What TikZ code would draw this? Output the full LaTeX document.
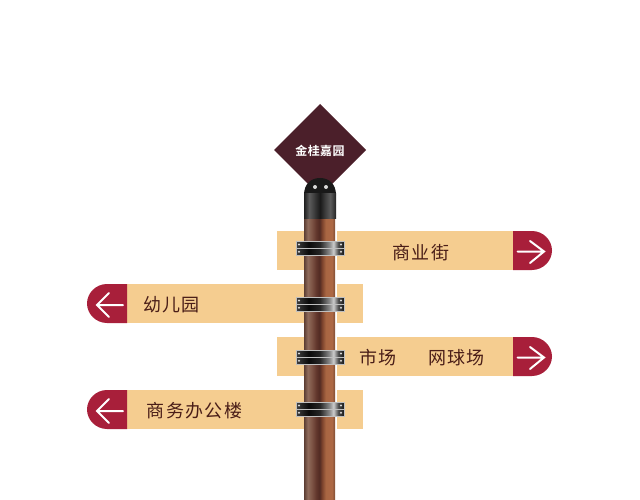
\documentclass[tikz,border=0pt]{standalone}
\usepackage{fontspec}
\newfontfamily\cjk[LetterSpace=8]{Noto Sans CJK SC}
\newfontfamily\cjkb[LetterSpace=4]{Noto Sans CJK SC Bold}
\definecolor{signtan}{HTML}{F5CD90}
\definecolor{signred}{HTML}{A81F3A}
\definecolor{plum}{HTML}{4B1F2A}
\definecolor{ink}{HTML}{4A1E18}
\pgfdeclarehorizontalshading{poleshade}{100bp}{
 rgb(0bp)=(0.36,0.24,0.20);
 rgb(25bp)=(0.36,0.24,0.20);
 rgb(31bp)=(0.56,0.42,0.36);
 rgb(37bp)=(0.50,0.34,0.28);
 rgb(45bp)=(0.38,0.21,0.17);
 rgb(50bp)=(0.32,0.17,0.14);
 rgb(54bp)=(0.48,0.26,0.17);
 rgb(60bp)=(0.66,0.40,0.26);
 rgb(70bp)=(0.68,0.41,0.27);
 rgb(75bp)=(0.50,0.30,0.20);
 rgb(100bp)=(0.50,0.30,0.20)}
\pgfdeclarehorizontalshading{capshade}{100bp}{
 rgb(0bp)=(0.12,0.12,0.12);
 rgb(25bp)=(0.12,0.12,0.12);
 rgb(33bp)=(0.36,0.36,0.36);
 rgb(42bp)=(0.22,0.22,0.22);
 rgb(50bp)=(0.10,0.10,0.10);
 rgb(58bp)=(0.24,0.24,0.24);
 rgb(66bp)=(0.36,0.36,0.36);
 rgb(75bp)=(0.14,0.14,0.14);
 rgb(100bp)=(0.14,0.14,0.14)}
\pgfdeclarehorizontalshading{clampshade}{100bp}{
 rgb(0bp)=(0.25,0.25,0.25);
 rgb(25bp)=(0.25,0.25,0.25);
 rgb(38bp)=(0.04,0.04,0.04);
 rgb(50bp)=(0.15,0.15,0.15);
 rgb(60bp)=(0.55,0.55,0.55);
 rgb(64bp)=(0.80,0.80,0.80);
 rgb(69bp)=(0.30,0.30,0.30);
 rgb(75bp)=(0.10,0.10,0.10);
 rgb(100bp)=(0.10,0.10,0.10)}
\tikzset{
 board/.style={fill=signtan,draw=none},
 tipfill/.style={fill=signred,draw=none},
 tiparrow/.style={draw=white,line width=2pt,line cap=round,line join=miter},
 signtext/.style={font=\cjk\fontsize{18}{18}\selectfont,text=ink,inner sep=0pt},
 rivet/.style={fill=white!85!black,draw=none}
}
\begin{document}
\begin{tikzpicture}[x=1pt,y=-1pt]
\useasboundingbox (0,0) rectangle (640,500);
\fill[white] (0,0) rectangle (640,500);
% boards, split by the pole
\foreach \t in {231,337}{
 \fill[board] (277,\t) rectangle (303.5,\t+39);
 \fill[board] (337,\t) rectangle (513,\t+39);
 \fill[tipfill] (513,\t) -- (532,\t) .. controls (543,\t) and (552,\t+9) .. (552,\t+19.5) .. controls (552,\t+30) and (543,\t+39) .. (532,\t+39) -- (513,\t+39) -- cycle;
 \draw[tiparrow] (517.5,\t+20.5) -- (544,\t+20.5) (530,\t+10) -- (544,\t+20.5) -- (530,\t+32);
}
\foreach \t in {284,390}{
 \fill[board] (127,\t) rectangle (303.5,\t+39);
 \fill[board] (337,\t) rectangle (363,\t+39);
 \fill[tipfill] (127,\t) -- (107,\t) .. controls (96,\t) and (87,\t+9) .. (87,\t+19.5) .. controls (87,\t+30) and (96,\t+39) .. (107,\t+39) -- (127,\t+39) -- cycle;
 \draw[tiparrow] (123,\t+21) -- (97,\t+21) (109,\t+9) -- (97,\t+21) -- (109,\t+33);
}
% diamond
\fill[plum] (320,104) -- (366,150) -- (320,196) -- (274,150) -- cycle;
\node[inner sep=0pt,text=white,font=\cjkb\fontsize{12}{12}\selectfont] (title) at (320,151) {金桂嘉园};
% pole
\shade[shading=poleshade] (304,215) rectangle (335,500);
% cap
\fill[black!90] (304,195) .. controls (304,184) and (311,178) .. (320,178) .. controls (329,178) and (336,184) .. (336,195) -- cycle;
\shade[shading=capshade] (304,193) rectangle (336,218.5);
\foreach \cx in {315,326} \fill[rivet] (\cx,187) circle (2);
% clamps
\foreach \t in {241,297,350,402}{
 \foreach \o in {0,7.2}{
  \shade[shading=clampshade,draw=white!75!black,line width=0.4pt] (296,\t+\o) rectangle (344,\t+\o+7);
  \fill[rivet] (299,\t+\o+3.5) circle (1.1);
  \fill[rivet] (341,\t+\o+3.5) circle (1.1);
 }
}
\node[signtext] (a) at (421,252.5) {商业街};
\node[signtext] (b) at (171.5,304.5) {幼儿园};
\node[signtext] (c) at (378,357.5) {市场};
\node[signtext] (d) at (456.5,357.5) {网球场};
\node[signtext] (e) at (194.5,411) {商务办公楼};
\end{tikzpicture}
\end{document}
